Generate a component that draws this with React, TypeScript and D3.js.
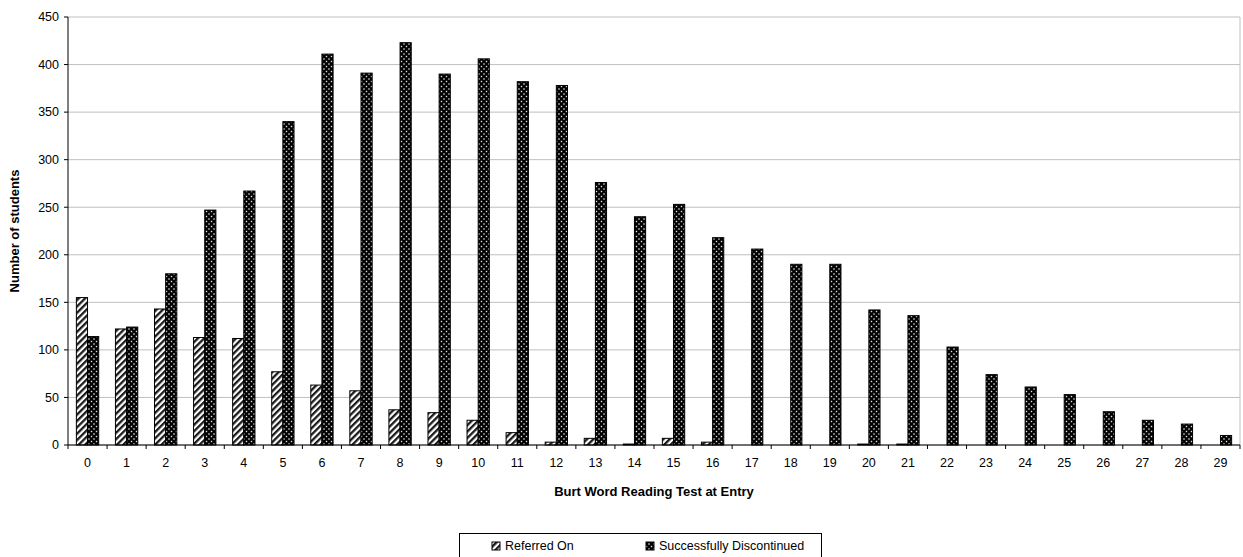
import React from "react";
import * as d3 from "d3";

const categories = Array.from({ length: 30 }, (_, i) => String(i));
const referredOn = [155, 122, 143, 113, 112, 77, 63, 57, 37, 34, 26, 13, 3, 7, 1, 7, 3, 0, 0, 0, 1, 1, 0, 0, 0, 0, 0, 0, 0, 0];
const discontinued = [114, 124, 180, 247, 267, 340, 411, 391, 423, 390, 406, 382, 378, 276, 240, 253, 218, 206, 190, 190, 142, 136, 103, 74, 61, 53, 35, 26, 22, 10];
const yTicks = [0, 50, 100, 150, 200, 250, 300, 350, 400, 450];
const seriesNames = ["Referred On", "Successfully Discontinued"];

const W = 1243, H = 557;
const left = 68, right = 1240, top = 17, bottom = 445;
const font = "'Liberation Sans', Arial, sans-serif";
const fs = 12.5;

export default function App() {
  const x = d3.scaleBand<string>().domain(categories).range([left, right]).paddingInner(0).paddingOuter(0);
  const y = d3.scaleLinear().domain([0, 450]).range([bottom, top]);
  const bw = x.bandwidth();
  const barW = bw / 3.5;
  const gap = (bw - 2 * barW) / 2;

  return (
    <svg width={W} height={H} style={{ position: "absolute", left: 0, top: 0, background: "#fff" }}>
      <defs>
        <pattern id="stripes" patternUnits="userSpaceOnUse" width="4.5" height="4.5" patternTransform="rotate(45)">
          <rect width="4.5" height="4.5" fill="#ffffff" />
          <rect width="2.3" height="4.5" fill="#1a1a1a" />
        </pattern>
        <pattern id="dots" patternUnits="userSpaceOnUse" width="5" height="5">
          <rect width="5" height="5" fill="#000000" />
          <rect x="0.8" y="0.8" width="1.4" height="1.4" fill="#e0e0e0" />
          <rect x="3.3" y="3.3" width="1.4" height="1.4" fill="#e0e0e0" />
        </pattern>
      </defs>
      <rect x={0} y={0} width={W} height={H} fill="#fff" />
      {yTicks.map((t) => (
        <line key={"g" + t} x1={left} x2={right} y1={y(t)} y2={y(t)} stroke="#c0c0c0" strokeWidth={1} />
      ))}
      <line x1={right} x2={right} y1={top} y2={bottom} stroke="#c0c0c0" strokeWidth={1} />
      {categories.map((c, i) => {
        const x0 = (x(c) as number) + gap;
        return (
          <g key={c}>
            <rect x={x0} y={y(referredOn[i])} width={barW} height={bottom - y(referredOn[i])} fill="url(#stripes)" stroke="#000" strokeWidth={1} />
            <rect x={x0 + barW} y={y(discontinued[i])} width={barW} height={bottom - y(discontinued[i])} fill="url(#dots)" stroke="#000" strokeWidth={1} />
          </g>
        );
      })}
      <line x1={left} x2={left} y1={top} y2={bottom} stroke="#000" strokeWidth={1} />
      <line x1={left} x2={right} y1={bottom} y2={bottom} stroke="#000" strokeWidth={1} />
      {yTicks.map((t) => (
        <g key={"t" + t}>
          <line x1={left - 4} x2={left} y1={y(t)} y2={y(t)} stroke="#000" />
          <text x={left - 9} y={y(t)} dy="0.35em" textAnchor="end" fontFamily={font} fontSize={fs} fill="#000">{t}</text>
        </g>
      ))}
      {categories.map((c) => (
        <g key={"x" + c}>
          <line x1={x(c)} x2={x(c)} y1={bottom} y2={bottom + 4} stroke="#000" />
          <text x={(x(c) as number) + bw / 2} y={bottom + 22} textAnchor="middle" fontFamily={font} fontSize={fs} fill="#000">{c}</text>
        </g>
      ))}
      <line x1={right} x2={right} y1={bottom} y2={bottom + 4} stroke="#000" />
      <text x={(left + right) / 2} y={496} textAnchor="middle" fontFamily={font} fontSize={13} fontWeight="bold" fill="#000">Burt Word Reading Test at Entry</text>
      <text transform={`translate(19,${(top + bottom) / 2}) rotate(-90)`} textAnchor="middle" fontFamily={font} fontSize={13} fontWeight="bold" fill="#000">Number of students</text>
      <g>
        <rect x={459.5} y={533.5} width={362} height={30} fill="#fff" stroke="#000" strokeWidth={1} />
        <rect x={492} y={542} width={8} height={8} fill="url(#stripes)" stroke="#000" />
        <text x={505} y={550} fontFamily={font} fontSize={fs} fill="#000">{seriesNames[0]}</text>
        <rect x={646} y={542} width={8} height={8} fill="url(#dots)" stroke="#000" />
        <text x={659} y={550} fontFamily={font} fontSize={fs} fill="#000">{seriesNames[1]}</text>
      </g>
    </svg>
  );
}
